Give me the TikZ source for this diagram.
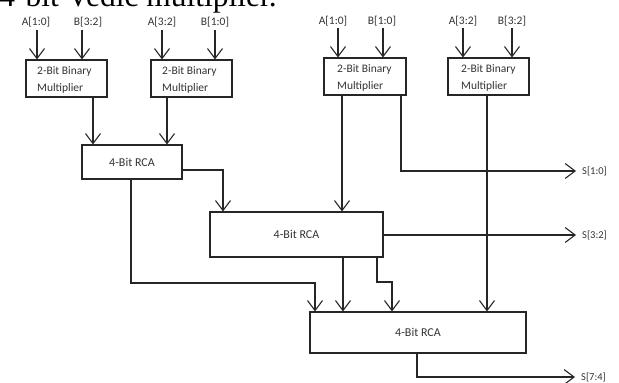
\documentclass[tikz,border=0pt]{standalone}
\usepackage{fontspec}
\setmainfont{Carlito}
\newfontfamily\headfont{Liberation Serif}
\usetikzlibrary{arrows.meta}
\begin{document}
\begin{tikzpicture}[x=1pt,y=-1pt,
  lbl/.style={font=\fontsize{11.5}{14}\selectfont,text=black!80},
  outlbl/.style={font=\fontsize{10.5}{12}\selectfont,text=black!80,anchor=west,inner xsep=6pt,inner ysep=0pt},
  blk/.style={draw=black!85,line width=1.1pt,inner sep=0pt,font=\fontsize{12}{14}\selectfont,text=black!80},
  mulbox/.style={blk,minimum width=81pt,minimum height=37pt},
  wire/.style={draw=black!85,line width=1.1pt},
  arr/.style={wire,-{Straight Barb[length=10pt,width=15pt,line width=1.1pt]}}]
\useasboundingbox (0,0) rectangle (619,383);
\begin{scope}
\clip (0,0) rectangle (619,383);
\node[anchor=base east,font=\headfont\fontsize{31.5}{32}\selectfont,inner sep=0pt] (head) at (277,6) {4-bit Vedic multiplier.};
\end{scope}
% multiplier blocks
\node[mulbox] (mul1) at (66.5,78.5) {};
\node[mulbox] (mul2) at (191.5,78.5) {};
\node[mulbox,minimum width=82pt] (mul3) at (365,76.5) {};
\node[mulbox] (mul4) at (488.5,76.5) {};
\foreach \m/\x/\y in {mul1/37/80, mul2/162/80, mul3/337/78, mul4/461/78}
  \node[lbl,anchor=west,align=left,inner sep=0pt] (\m t) at (\x,\y) {2-Bit Binary\\[2.5pt]Multiplier};
% RCA blocks
\node[blk,minimum width=100pt,minimum height=34pt] (rca1) at (132,162) {4-Bit RCA};
\node[blk,minimum width=173pt,minimum height=45pt] (rca2) at (296.5,234.5) {4-Bit RCA};
\node[blk,minimum width=216pt,minimum height=41pt] (rca3) at (418,332.5) {4-Bit RCA};
% input labels
\node[lbl] (ia1) at (36,22) {A[1:0]};
\node[lbl] (ib1) at (88,22) {B[3:2]};
\node[lbl] (ia2) at (162,22) {A[3:2]};
\node[lbl] (ib2) at (215,22) {B[1:0]};
\node[lbl] (ia3) at (333,21) {A[1:0]};
\node[lbl] (ib3) at (382,21) {B[1:0]};
\node[lbl] (ia4) at (463,21) {A[3:2]};
\node[lbl] (ib4) at (512,21) {B[3:2]};
% input arrows
\foreach \n/\x/\y in {1/37/30, 2/82/30, 3/162/30, 4/215/30, 5/338/28, 6/383/28, 7/463/28, 8/512/28}
  \coordinate (in\n) at (\x,\y);
\draw[arr] (in1) -- (in1 |- mul1.north);
\draw[arr] (in2) -- (in2 |- mul1.north);
\draw[arr] (in3) -- (in3 |- mul2.north);
\draw[arr] (in4) -- (in4 |- mul2.north);
\draw[arr] (in5) -- (in5 |- mul3.north);
\draw[arr] (in6) -- (in6 |- mul3.north);
\draw[arr] (in7) -- (in7 |- mul4.north);
\draw[arr] (in8) -- (in8 |- mul4.north);
% x positions
\coordinate (x1) at (93,0);
\coordinate (x2) at (167,0);
\coordinate (x3) at (342,0);
\coordinate (x4) at (401,0);
\coordinate (x5) at (487,0);
\coordinate (x6) at (131,0);
\coordinate (x7) at (343,0);
\coordinate (x8) at (377,0);
\coordinate (x9) at (417,0);
% output labels
\node[outlbl] (s10) at (576,171) {S[1:0]};
\node[outlbl] (s32) at (576,235) {S[3:2]};
\node[outlbl] (s74) at (575,377) {S[7:4]};
% connections
\draw[arr] (mul1.south -| x1) -- (rca1.north -| x1);
\draw[arr] (mul2.south -| x2) -- (rca1.north -| x2);
\draw[arr] (rca1.east |- 0,170) -| (223,0 |- rca2.north);
\draw[arr] (mul3.south -| x3) -- (rca2.north -| x3);
\draw[arr] (mul3.south -| x4) |- (s10.west);
\draw[arr] (mul4.south -| x5) -- (rca3.north -| x5);
\draw[arr] (rca2.east |- s32.west) -- (s32.west);
\draw[arr] (rca1.south -| x6) |- (315,283) -- (315,0 |- rca3.north);
\draw[arr] (rca2.south -| x7) -- (rca3.north -| x7);
\draw[arr] (rca2.south -| x8) |- (392,282) -- (392,0 |- rca3.north);
\draw[arr] (rca3.south -| x9) |- (s74.west);
\end{tikzpicture}
\end{document}
